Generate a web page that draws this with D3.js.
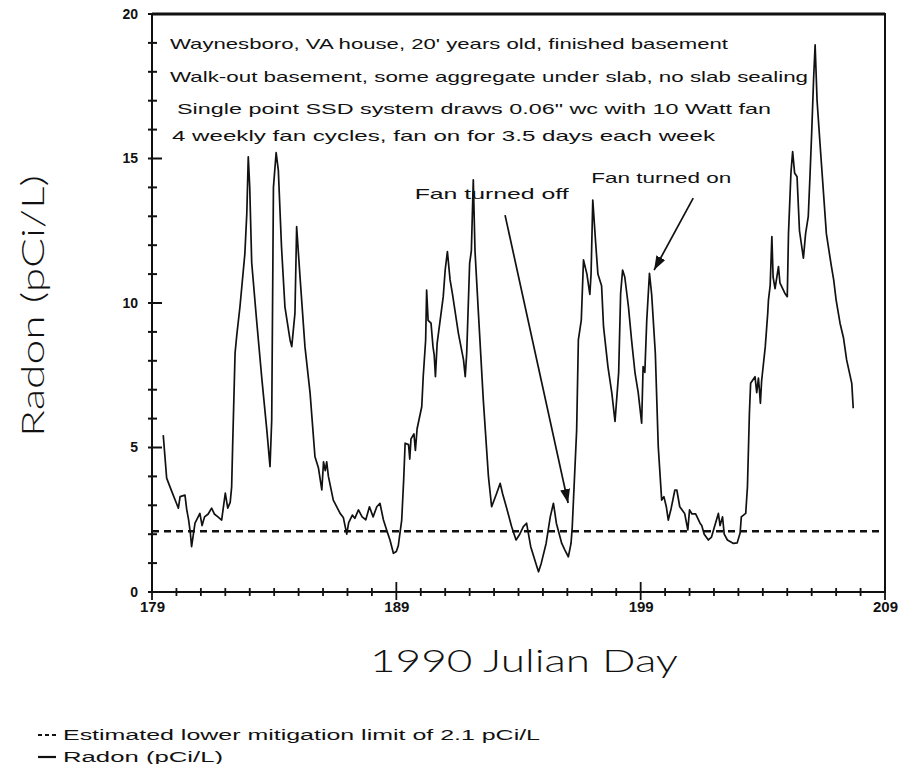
<!DOCTYPE html>
<html>
<head>
<meta charset="utf-8">
<script src="https://cdn.jsdelivr.net/npm/d3@7"></script>
<style>
  body { margin: 0; background: #fff; }
  text { font-family: "Liberation Sans", Arial, sans-serif; fill: #111; }
  .big { font-family: Lato, "Open Sans", "Liberation Sans", sans-serif; font-weight: 300; }
</style>
</head>
<body>
<div id="chart"></div>
<script>
// julian day of each reading
const days = [
  179.46, 179.6, 179.8, 180.0, 180.08, 180.15, 180.35, 180.42, 180.5, 180.57,
  180.62, 180.76, 180.96, 181.05, 181.15, 181.3, 181.44, 181.55, 181.7, 181.85,
  182.0, 182.1, 182.2, 182.26, 182.3, 182.4, 182.47, 182.6, 182.8, 182.88,
  182.94, 183.0, 183.08, 183.28, 183.5, 183.7, 183.83, 183.9, 183.97, 184.08,
  184.17, 184.3, 184.44, 184.65, 184.72, 184.85, 184.92, 185.05, 185.26, 185.47,
  185.67, 185.81, 185.95, 186.02, 186.09, 186.15, 186.22, 186.42, 186.7, 186.83,
  186.97, 187.05, 187.2, 187.3, 187.45, 187.6, 187.75, 187.9, 188.05, 188.2,
  188.33, 188.47, 188.6, 188.74, 188.88, 189.0, 189.08, 189.22, 189.3, 189.36,
  189.5, 189.55, 189.6, 189.72, 189.78, 189.85, 190.04, 190.1, 190.2, 190.24,
  190.3, 190.42, 190.5, 190.55, 190.6, 190.67, 190.92, 191.0, 191.09, 191.2,
  191.3, 191.54, 191.75, 191.82, 191.88, 192.0, 192.07, 192.15, 192.22, 192.36,
  192.56, 192.77, 192.9, 193.1, 193.25, 193.35, 193.5, 193.72, 193.9, 194.05,
  194.2, 194.33, 194.5, 194.75, 194.82, 194.93, 195.13, 195.3, 195.43, 195.55,
  195.77, 195.9, 196.04, 196.15, 196.2, 196.38, 196.45, 196.57, 196.66, 196.8,
  196.92, 196.97, 197.04, 197.16, 197.25, 197.4, 197.48, 197.66, 197.82, 197.95,
  198.1, 198.18, 198.26, 198.35, 198.5, 198.63, 198.77, 198.9, 199.04, 199.1,
  199.17, 199.25, 199.36, 199.45, 199.6, 199.72, 199.86, 199.95, 200.05, 200.13,
  200.25, 200.4, 200.48, 200.6, 200.8, 200.93, 201.0, 201.1, 201.25, 201.43,
  201.5, 201.6, 201.77, 201.9, 202.0, 202.18, 202.25, 202.35, 202.42, 202.55,
  202.8, 202.95, 203.07, 203.12, 203.3, 203.37, 203.45, 203.5, 203.68, 203.75,
  203.82, 203.86, 203.9, 203.95, 204.1, 204.2, 204.23, 204.3, 204.37, 204.42,
  204.5, 204.64, 204.7, 204.9, 205.0, 205.05, 205.15, 205.22, 205.3, 205.4,
  205.5, 205.66, 205.75, 205.86, 205.93, 206.0, 206.08, 206.14, 206.22, 206.35,
  206.6, 206.8, 206.9, 207.0, 207.16, 207.3, 207.43, 207.64, 207.7
];
// radon, pCi/L
const radon = [
  5.43, 3.94, 3.5, 3.07, 2.9, 3.3, 3.35, 2.86, 2.49, 2.04,
  1.57, 2.38, 2.72, 2.3, 2.6, 2.7, 2.9, 2.7, 2.6, 2.49,
  3.42, 2.9, 3.1, 3.64, 5.03, 8.27, 8.89, 9.87, 11.7, 13.1,
  15.06, 14.0, 11.4, 9.41, 7.34, 5.6, 4.34, 5.95, 14.0, 15.2,
  14.6, 11.95, 9.87, 8.72, 8.49, 9.64, 12.64, 11.0, 8.49, 6.88,
  4.68, 4.3, 3.53, 4.5, 4.2, 4.5, 4.0, 3.18, 2.72, 2.58,
  2.0, 2.4, 2.66, 2.55, 2.84, 2.6, 2.5, 2.95, 2.6, 2.95,
  3.07, 2.5, 2.15, 1.8, 1.34, 1.4, 1.6, 2.49, 3.87, 5.15,
  5.1, 4.6, 5.3, 5.47, 4.9, 5.65, 6.41, 7.45, 8.72, 10.45,
  9.4, 9.3, 8.49, 8.2, 7.45, 8.6, 10.22, 11.15, 11.78, 10.8,
  10.3, 8.95, 8.03, 7.45, 8.26, 11.37, 11.8, 14.26, 11.8, 9.64,
  6.64, 3.99, 2.95, 3.4, 3.76, 3.4, 2.95, 2.26, 1.8, 2.0,
  2.26, 2.38, 1.57, 0.88, 0.7, 0.99, 1.68, 2.6, 3.07, 2.38,
  1.68, 1.45, 1.22, 1.68, 2.26, 5.6, 8.72, 9.41, 11.49, 11.0,
  10.3, 11.0, 13.56, 12.06, 11.0, 10.6, 9.18, 7.8, 6.88, 5.9,
  7.6, 10.33, 11.14, 10.9, 9.87, 8.7, 7.57, 6.9, 5.84, 7.8,
  7.6, 9.41, 11.03, 10.3, 8.26, 5.03, 3.18, 3.3, 2.95, 2.49,
  2.9, 3.53, 3.53, 2.95, 2.72, 2.15, 2.84, 2.7, 2.7, 2.38,
  2.3, 2.0, 1.8, 1.9, 2.2, 2.72, 2.3, 2.6, 2.0, 1.8,
  1.68, 1.7, 2.04, 2.6, 2.72, 3.64, 6.18, 7.22, 7.45, 6.9,
  7.4, 7.0, 6.53, 7.3, 8.49, 9.64, 10.1, 10.6, 12.3, 10.9,
  10.5, 11.26, 10.7, 10.34, 10.22, 12.4, 14.5, 15.24, 14.5, 14.37,
  12.5, 11.55, 12.4, 13.0, 14.4, 15.9, 17.8, 18.93, 17.0, 15.4,
  12.4, 11.3, 10.8, 10.1, 9.3, 8.8, 8.03, 7.22, 6.36
];
const mitigationLimit = 2.1;
const xTickLabels = [179, 189, 199, 209];
const yTickLabels = [0, 5, 10, 15, 20];
const noteLines = [
  "Waynesboro, VA house, 20' years old, finished basement",
  "Walk-out basement, some aggregate under slab, no slab sealing",
  "Single point SSD system draws 0.06\" wc with 10 Watt fan",
  "4 weekly fan cycles, fan on for 3.5 days each week"
];
const legendLabels = [
  "Estimated lower mitigation limit of 2.1 pCi/L",
  "Radon (pCi/L)"
];

const W = 913, H = 764;
const svg = d3.select("#chart").append("svg")
  .attr("width", W).attr("height", H);

const x = d3.scaleLinear().domain([179, 209]).range([152, 885]);
const y = d3.scaleLinear().domain([0, 20]).range([592, 14]);

// arrow head
svg.append("defs").append("marker")
  .attr("id", "head")
  .attr("markerUnits", "userSpaceOnUse")
  .attr("markerWidth", 14).attr("markerHeight", 10)
  .attr("refX", 14).attr("refY", 5)
  .attr("orient", "auto")
  .append("path").attr("d", "M0,0L14,5L0,10Z").attr("fill", "#111");

// frame
svg.append("rect")
  .attr("x", x(179)).attr("y", y(20))
  .attr("width", x(209) - x(179)).attr("height", y(0) - y(20))
  .attr("fill", "none").attr("stroke", "#111").attr("stroke-width", 2);
svg.append("line")
  .attr("x1", x(179)).attr("x2", x(209)).attr("y1", y(20)).attr("y2", y(20))
  .attr("stroke", "#111").attr("stroke-width", 3);

// y axis labels
const gy = svg.append("g").attr("transform", "translate(" + x(179) + ",0)")
  .call(d3.axisLeft(y).tickValues(yTickLabels).tickSize(0).tickPadding(14));
gy.select(".domain").remove();
gy.selectAll(".tick text").attr("font-size", 14).attr("font-weight", "bold")
  .style("font-family", "'Liberation Sans', Arial, sans-serif");

// y ticks, every unit
svg.append("g").selectAll("line")
  .data(d3.range(0, 21))
  .join("line")
  .attr("x1", d => x(179) - 4)
  .attr("x2", d => x(179) + (d % 5 === 0 ? 10 : 5))
  .attr("y1", d => y(d)).attr("y2", d => y(d))
  .attr("stroke", "#111").attr("stroke-width", 2);

// x axis labels
const gx = svg.append("g").attr("transform", "translate(0," + y(0) + ")")
  .call(d3.axisBottom(x).tickValues(xTickLabels).tickSize(0).tickPadding(9));
gx.select(".domain").remove();
gx.selectAll(".tick text").attr("font-size", 15).attr("font-weight", "bold")
  .style("font-family", "'Liberation Sans', Arial, sans-serif");

// x ticks, every day
svg.append("g").selectAll("line")
  .data(d3.range(179, 210))
  .join("line")
  .attr("x1", d => x(d)).attr("x2", d => x(d))
  .attr("y1", d => y(0) - ((d - 179) % 10 === 0 ? 10 : 4))
  .attr("y2", d => y(0) + ((d - 179) % 10 === 0 ? 8 : 4))
  .attr("stroke", "#111").attr("stroke-width", 1.8);

// mitigation limit
svg.append("line")
  .attr("x1", x(179)).attr("x2", x(209))
  .attr("y1", y(mitigationLimit)).attr("y2", y(mitigationLimit))
  .attr("stroke", "#111").attr("stroke-width", 2.6)
  .attr("stroke-dasharray", "7,5");

// radon series
const series = days.map((d, i) => [d, radon[i]]);
svg.append("path")
  .datum(series)
  .attr("fill", "none").attr("stroke", "#111")
  .attr("stroke-width", 1.7).attr("stroke-linejoin", "round")
  .attr("d", d3.line().x(d => x(d[0])).y(d => y(d[1])));

// notes box text
const noteX = [170, 170, 177, 172];
const noteY = [49, 82, 114, 141];
const noteW = [558, 638, 594, 543];
noteLines.forEach((t, i) => {
  svg.append("text")
    .attr("x", noteX[i]).attr("y", noteY[i])
    .attr("font-size", 15)
    .attr("textLength", noteW[i]).attr("lengthAdjust", "spacingAndGlyphs")
    .text(t);
});

// fan annotations
svg.append("text").attr("x", x(189.75)).attr("y", y(13.6))
  .attr("font-size", 15).attr("textLength", 154).attr("lengthAdjust", "spacingAndGlyphs")
  .text("Fan turned off");
svg.append("line")
  .attr("x1", x(193.45)).attr("y1", y(13.04))
  .attr("x2", x(196.03)).attr("y2", y(3.08))
  .attr("stroke", "#111").attr("stroke-width", 1.7)
  .attr("marker-end", "url(#head)");
svg.append("text").attr("x", x(196.98)).attr("y", y(14.15))
  .attr("font-size", 15).attr("textLength", 140).attr("lengthAdjust", "spacingAndGlyphs")
  .text("Fan turned on");
svg.append("line")
  .attr("x1", x(201.15)).attr("y1", y(13.63))
  .attr("x2", x(199.55)).attr("y2", y(11.14))
  .attr("stroke", "#111").attr("stroke-width", 1.7)
  .attr("marker-end", "url(#head)");

// axis titles
svg.append("text").attr("class", "big")
  .attr("transform", "translate(44,306) rotate(-90)")
  .attr("text-anchor", "middle")
  .attr("font-size", 32)
  .attr("textLength", 262).attr("lengthAdjust", "spacingAndGlyphs")
  .text("Radon (pCi/L)");
svg.append("text").attr("class", "big")
  .attr("x", 370).attr("y", 672)
  .attr("font-size", 31)
  .attr("textLength", 308).attr("lengthAdjust", "spacingAndGlyphs")
  .text("1990 Julian Day");

// legend
const lg = svg.append("g");
lg.append("line").attr("x1", 38).attr("x2", 58).attr("y1", 735).attr("y2", 735)
  .attr("stroke", "#111").attr("stroke-width", 2).attr("stroke-dasharray", "4,3");
lg.append("line").attr("x1", 38).attr("x2", 56).attr("y1", 757).attr("y2", 757)
  .attr("stroke", "#111").attr("stroke-width", 2.2);
lg.append("text").attr("x", 63).attr("y", 740).attr("font-size", 14)
  .attr("textLength", 477).attr("lengthAdjust", "spacingAndGlyphs")
  .text(legendLabels[0]);
lg.append("text").attr("x", 63).attr("y", 762).attr("font-size", 14)
  .attr("textLength", 160).attr("lengthAdjust", "spacingAndGlyphs")
  .text(legendLabels[1]);
</script>
</body>
</html>
